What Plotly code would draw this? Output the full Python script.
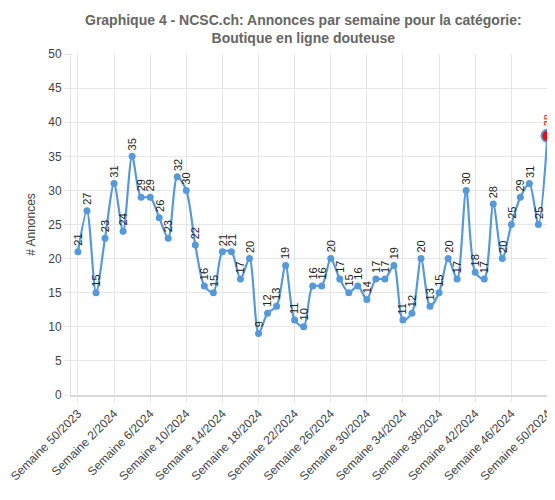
import plotly.graph_objects as go

# weekly reports, week 50/2023 to week 50/2024
weeks = ["Semaine %d/2023" % w for w in [50, 51, 52]] + ["Semaine %d/2024" % w for w in range(1, 51)]

annonces = [21, 27, 15, 23, 31, 24, 35, 29, 29, 26,
            23, 32, 30, 22, 16, 15, 21, 21, 17, 20,
            9, 12, 13, 19, 11, 10, 16, 16, 20, 17,
            15, 16, 14, 17, 17, 19, 11, 12, 20, 13,
            15, 20, 17, 30, 18, 17, 28, 20, 25, 29,
            31, 25, 38]

tick_labels = weeks[::4]

line_colour = "#5599da"

fig = go.Figure()

fig.add_trace(go.Scatter(
    x=list(range(len(weeks))),
    y=annonces,
    mode="lines+markers",
    line=dict(color=line_colour, width=2.2, shape="spline", smoothing=0.8),
    marker=dict(color=line_colour, size=7),
    cliponaxis=False,
    showlegend=False,
    hovertext=weeks
))

# highlight the latest week
fig.add_trace(go.Scatter(
    x=[len(weeks) - 1],
    y=[annonces[-1]],
    mode="markers",
    marker=dict(color="red", size=12, line=dict(color=line_colour, width=2)),
    cliponaxis=False,
    showlegend=False
))

# vertical value labels above each point
for i, v in enumerate(annonces):
    last = i == len(annonces) - 1
    fig.add_annotation(
        x=i, y=v,
        text=str(v),
        textangle=-90,
        showarrow=False,
        xanchor="center", yanchor="bottom",
        yshift=8 if last else 4,
        font=dict(family="Liberation Sans, Arial", size=11, color="red" if last else "#222")
    )

# title as an annotation so it sits where the original does
fig.add_annotation(
    xref="paper", yref="paper",
    x=0.48, y=1.13,
    xanchor="center", yanchor="top",
    text="<b>Graphique 4 - NCSC.ch: Annonces par semaine pour la catégorie:<br>Boutique en ligne douteuse</b>",
    showarrow=False,
    font=dict(family="Liberation Sans, Arial", size=14, color="#666")
)

# page body has an 8px margin, so keep the figure small enough to avoid scrollbars
fig.update_layout(
    width=547, height=484,
    margin=dict(l=60, r=0, t=46, b=97),
    paper_bgcolor="white",
    plot_bgcolor="white",
    font=dict(family="Liberation Sans, Arial", size=12, color="#555"),
    xaxis=dict(
        range=[-0.77, len(weeks) - 0.16],
        tickvals=list(range(0, len(weeks), 4)),
        ticktext=tick_labels,
        tickangle=-45,
        ticklabeloverflow="allow",
        ticks="outside", ticklen=5, tickcolor="#e6e6e6",
        showgrid=True, gridcolor="#e6e6e6", gridwidth=1,
        showline=True, linecolor="#d9d9d9", linewidth=2,
        zeroline=False,
        tickfont=dict(size=12, color="#444")
    ),
    yaxis=dict(
        range=[0, 50],
        dtick=5,
        title=dict(text="# Annonces", font=dict(size=12, color="#444"), standoff=10),
        ticks="outside", ticklen=6, tickcolor="#e6e6e6",
        showgrid=True, gridcolor="#e6e6e6", gridwidth=1,
        showline=True, linecolor="#e0e0e0", linewidth=1,
        zeroline=False,
        tickfont=dict(size=12, color="#444")
    )
)

fig.write_html("out.html")
